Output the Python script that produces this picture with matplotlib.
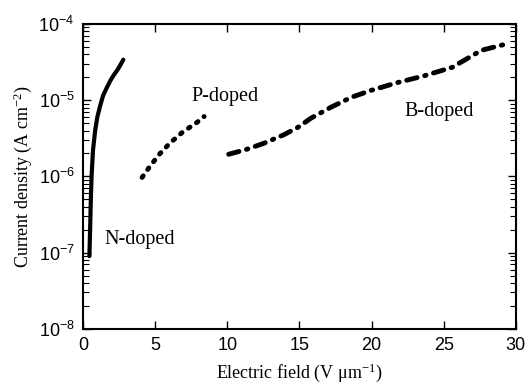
import math
import matplotlib
matplotlib.use("Agg")
import matplotlib.pyplot as plt
from matplotlib.ticker import FixedLocator, FuncFormatter, LogLocator, NullFormatter

plt.rcParams['mathtext.fontset'] = 'custom'
plt.rcParams['mathtext.rm'] = 'Liberation Serif'
plt.rcParams['mathtext.it'] = 'Liberation Serif:italic'
plt.rcParams['mathtext.sf'] = 'Liberation Sans'

# N-doped
n_x = [0.45, 0.5, 0.55, 0.6, 0.7, 0.85, 1.0, 1.2, 1.4, 1.65, 1.9, 2.15, 2.4, 2.6, 2.8]
n_y = [9e-8, 2e-7, 5e-7, 1e-6, 2.2e-6, 4e-6, 6e-6, 8.5e-6, 1.15e-5, 1.45e-5, 1.8e-5, 2.15e-5, 2.5e-5, 2.9e-5, 3.4e-5]
# P-doped
p_x = [4.1, 4.7, 5.35, 6.0, 6.9, 7.9, 8.4]
p_y = [9.7e-7, 1.4e-6, 2.0e-6, 2.7e-6, 3.8e-6, 5.1e-6, 6.1e-6]
# B-doped
b_x = [10.1, 11.3, 12.5, 13.9, 14.9, 15.8, 17.2, 18.6, 20.0, 21.8, 23.7, 25.6, 26.5, 27.6, 29.4]
b_y = [1.95e-6, 2.25e-6, 2.7e-6, 3.5e-6, 4.4e-6, 5.8e-6, 8.1e-6, 1.09e-5, 1.35e-5, 1.7e-5, 2.1e-5, 2.7e-5, 3.4e-5, 4.5e-5, 5.5e-5]

labels = ["N-doped", "P-doped", "B-doped"]
label_x = [3.96, 9.86, 24.65]
label_y = [1.48e-7, 1.13e-5, 7.2e-6]

x_ticks = [0, 5, 10, 15, 20, 25, 30]

fig = plt.figure(figsize=(5.28, 3.86), dpi=100)
ax = fig.add_axes([0.157, 0.148, 0.820, 0.790])

ax.plot(n_x, n_y, color='black', lw=3.0, ls='-', solid_capstyle='round')
ax.plot(p_x, p_y, color='black', lw=3.5, ls=(0, (0.4, 1.6)), dash_capstyle='round')
ax.plot(b_x, b_y, color='black', lw=3.5, ls=(0, (2.2, 1.6, 0.3, 1.6)), dash_capstyle='round')

for t, x, y in zip(labels, label_x, label_y):
    ax.text(x, y, t, ha='center', va='center', fontsize=14.5, family='Liberation Serif')

ax.set_yscale('log')
ax.set_xlim(0, 30)
ax.set_ylim(1e-8, 1e-4)
ax.xaxis.set_major_locator(FixedLocator(x_ticks))
ax.yaxis.set_major_locator(LogLocator(base=10, numticks=10))
ax.yaxis.set_minor_locator(LogLocator(base=10, subs=range(2, 10), numticks=20))
ax.yaxis.set_minor_formatter(NullFormatter())
ax.yaxis.set_major_formatter(FuncFormatter(lambda v, p: r'$\mathsf{10^{%d}}$' % round(math.log10(v))))

ax.tick_params(which='both', direction='in', top=True, right=True)
ax.tick_params(which='major', length=6, width=1)
ax.tick_params(which='minor', length=4, width=0.8)
ax.tick_params(axis='both', labelsize=13, pad=6)
for s in ax.spines.values():
    s.set_linewidth(1.5)

ax.set_xlabel(r'Electric field (V $\mathrm{\mu}$m$^{-1}$)', fontsize=13, family='Liberation Serif', labelpad=5)
ax.set_ylabel(r'Current density (A cm$^{-2}$)', fontsize=13, family='Liberation Serif', labelpad=3)
for lab in ax.get_xticklabels():
    lab.set_family('Liberation Sans')

fig.savefig('out.png', dpi=100)
